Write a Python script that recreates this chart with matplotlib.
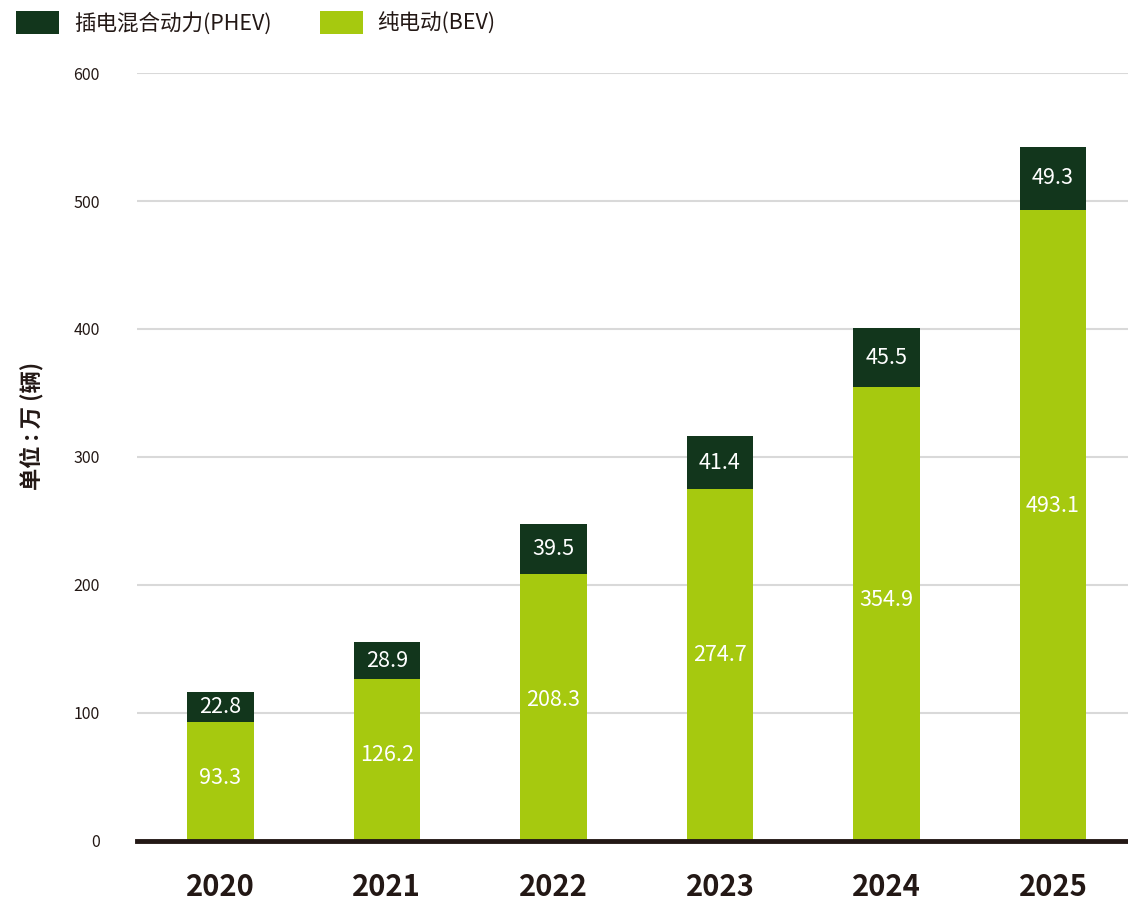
import numpy as np
import matplotlib.pyplot as plt
from matplotlib.patches import Patch

plt.rcParams['font.family'] = ['Noto Sans CJK SC', 'DejaVu Sans']

# === Data (万辆) ===
years = ['2020', '2021', '2022', '2023', '2024', '2025']
bev = [93.3, 126.2, 208.3, 274.7, 354.9, 493.1]
phev = [22.8, 28.9, 39.5, 41.4, 45.5, 49.3]

# Colors
c_phev = '#12361c'
c_bev = '#a6c90f'
c_axis = '#231815'
c_grid = '#d9d9d9'

fig = plt.figure(figsize=(11.28, 9.07), dpi=100)
ax = fig.add_axes([0.1215, 0.0728, 0.8785, 0.8467])

x = np.arange(len(years))
w = 0.40
ax.bar(x, bev, width=w, color=c_bev, zorder=3)
ax.bar(x, phev, width=w, bottom=bev, color=c_phev, zorder=3)

# value labels
for xi, b, p in zip(x, bev, phev):
    ax.text(xi, b * 0.53, f'{b}', ha='center', va='center',
            color='white', fontsize=15.5, zorder=4)
    ax.text(xi, b + p / 2, f'{p}', ha='center', va='center',
            color='white', fontsize=15.5, zorder=4)

ax.set_xlim(-0.5, 5.45)
ax.set_ylim(0, 600)
ax.set_yticks(range(0, 601, 100))
ax.set_xticks(x)
ax.set_xticklabels(years, fontsize=21, fontweight='bold', color=c_axis)
ax.tick_params(axis='x', length=0, pad=22)
ax.tick_params(axis='y', length=0, pad=27, labelsize=11.5, labelcolor=c_axis)
for lbl in ax.get_yticklabels():
    lbl.set_fontweight('medium')
ax.grid(axis='y', color=c_grid, lw=1.5, zorder=0)

for side in ['top', 'right', 'left']:
    ax.spines[side].set_visible(False)
ax.spines['bottom'].set_color(c_axis)
ax.spines['bottom'].set_linewidth(3.5)
ax.spines['bottom'].set_zorder(5)

ax.set_ylabel('单位 : 万 (辆)', fontsize=16, fontweight='bold', color=c_axis)
ax.yaxis.set_label_coords(-0.094, 0.54)

handles = [Patch(facecolor=c_phev, label='插电混合动力(PHEV)'),
           Patch(facecolor=c_bev, label='纯电动(BEV)')]
fig.legend(handles=handles, loc='upper left', bbox_to_anchor=(0.005, 1.0),
           ncol=2, frameon=False, fontsize=15.5, handlelength=2.0, handleheight=1.3,
           handletextpad=0.7, columnspacing=2.2, borderaxespad=0.3, borderpad=0.2,
           labelcolor=c_axis)

plt.savefig('out.png', dpi=100, facecolor='white')
